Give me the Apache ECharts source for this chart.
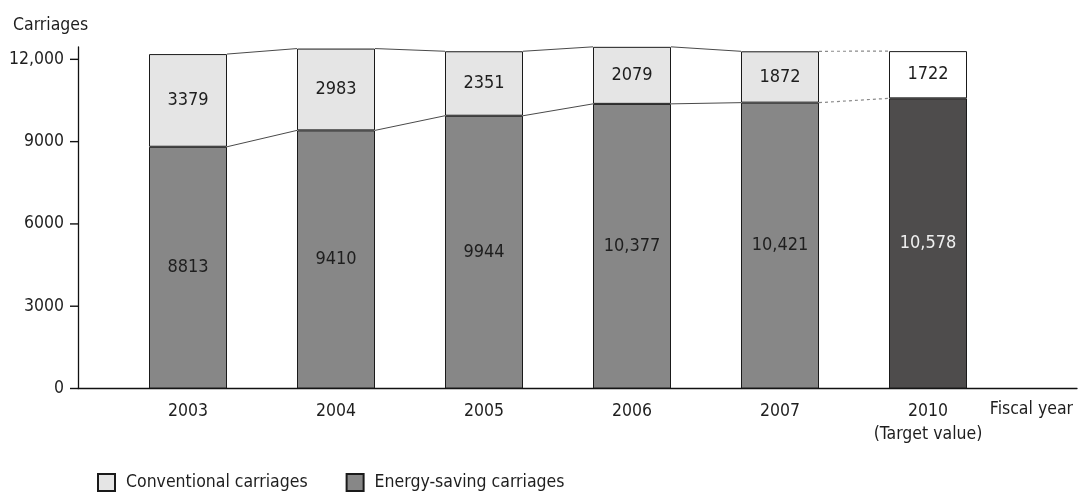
<!DOCTYPE html>
<html>
<head>
<meta charset="utf-8">
<title>Conventional and energy-saving carriages by fiscal year</title>
<script src="https://cdn.jsdelivr.net/npm/echarts@6/dist/echarts.min.js"></script>
<style>
  html, body { margin: 0; padding: 0; background: #fff; }
  #chart { width: 1080px; height: 495px; }
</style>
</head>
<body>
<div id="chart"></div>
<script>
// Fiscal years shown on the horizontal axis
const years = ['2003', '2004', '2005', '2006', '2007', '2010\n(Target value)'];
// Number of energy-saving carriages (lower segment)
const energySaving = [8813, 9410, 9944, 10377, 10421, 10578];
// Number of conventional carriages (upper segment)
const conventional = [3379, 2983, 2351, 2079, 1872, 1722];
// Vertical axis tick values
const yTicks = [0, 3000, 6000, 9000, 12000];
// Index of the target-value column (drawn in different shades)
const targetIndex = 5;

const FONT = '"Liberation Sans Narrow", "DejaVu Sans Condensed", sans-serif';
const INK = '#1e1e1e';
const BAR_WIDTH = 78;
const TICK_LEN = 8;
const FS = 17.5;

function fmt(v) {
  return v >= 10000 ? v.toLocaleString('en-US') : String(v);
}

const totals = energySaving.map((v, i) => v + conventional[i]);

// Connector segments between neighbouring columns: [from, to, lowFrom, lowTo, topFrom, topTo, dashed]
const connectors = [];
for (let i = 0; i < years.length - 1; i++) {
  connectors.push([i, i + 1, energySaving[i], energySaving[i + 1], totals[i], totals[i + 1], i + 1 === targetIndex ? 1 : 0]);
}

const chart = echarts.init(document.getElementById('chart'), null, { renderer: 'canvas' });

// The value axis line runs a little above the last tick; the labelled scale uses
// a grid whose top sits exactly at the last tick on the same pixel scale.
const yAxisMax = 12450;
const yLastTick = yTicks[yTicks.length - 1];
const yStep = yTicks[1] - yTicks[0];
const plotTop = 47;
const plotBottom = 106.5;
const plotHeight = 495 - plotTop - plotBottom;
const tickGridTop = plotTop + plotHeight * (1 - yLastTick / yAxisMax);

const axisColor = '#111';

chart.setOption({
  animation: false,
  backgroundColor: '#ffffff',
  textStyle: { fontFamily: FONT },
  title: {
    text: 'Carriages',
    left: 8,
    top: 11,
    textStyle: { fontFamily: FONT, fontSize: FS, fontWeight: 'normal', color: INK }
  },
  grid: [
    // plotting area for the columns
    { left: 114, right: 78, top: plotTop, bottom: plotBottom, containLabel: false },
    // frame carrying the full-length axis lines, tick marks and the horizontal axis name
    { left: 78, right: 3, top: plotTop, bottom: plotBottom, containLabel: false },
    // frame for the tick labels of the value axis
    { left: 78, right: 3, top: tickGridTop, bottom: plotBottom, containLabel: false }
  ],
  legend: {
    data: ['Conventional carriages', 'Energy-saving carriages'],
    left: 92,
    top: 468,
    icon: 'rect',
    itemWidth: 17,
    itemHeight: 17,
    itemGap: 38,
    selectedMode: false,
    textStyle: { fontFamily: FONT, fontSize: FS, color: INK, padding: [0, 0, 0, 6] }
  },
  xAxis: [
    {
      type: 'category',
      gridIndex: 0,
      data: years,
      boundaryGap: true,
      axisLine: { show: false },
      axisTick: { show: false },
      axisLabel: {
        interval: 0,
        fontFamily: FONT,
        fontSize: FS,
        lineHeight: 23,
        color: INK,
        margin: 11
      }
    },
    {
      type: 'value',
      gridIndex: 1,
      min: 0,
      max: 1,
      splitLine: { show: false },
      axisLine: { show: true, onZero: false, lineStyle: { color: axisColor, width: 1.3 } },
      axisTick: { show: false },
      axisLabel: { show: false },
      name: 'Fiscal year',
      nameLocation: 'end',
      nameGap: -4,
      nameTextStyle: {
        fontFamily: FONT,
        fontSize: FS,
        color: INK,
        align: 'right',
        verticalAlign: 'top',
        padding: [12, 0, 0, 0]
      }
    },
    {
      type: 'value',
      gridIndex: 2,
      min: 0,
      max: 1,
      show: false
    }
  ],
  yAxis: [
    {
      // scale of the columns
      type: 'value',
      gridIndex: 0,
      min: 0,
      max: yAxisMax,
      show: false
    },
    {
      // vertical axis line on the same scale
      type: 'value',
      gridIndex: 1,
      min: 0,
      max: yAxisMax,
      splitLine: { show: false },
      axisLine: { show: true, onZero: false, lineStyle: { color: axisColor, width: 1.3 } },
      axisTick: { show: false },
      axisLabel: { show: false }
    },
    {
      // tick labels, 0 to 12,000 every 3000
      type: 'value',
      gridIndex: 2,
      min: 0,
      max: yLastTick,
      interval: yStep,
      splitLine: { show: false },
      axisLine: { show: false },
      axisTick: { show: false },
      axisLabel: {
        formatter: v => fmt(v),
        fontFamily: FONT,
        fontSize: FS,
        color: INK,
        margin: 14
      }
    }
  ],
  series: [
    {
      // outward tick marks on the vertical axis
      type: 'custom',
      name: 'ticks',
      xAxisIndex: 1,
      yAxisIndex: 1,
      silent: true,
      clip: false,
      z: 3,
      encode: { x: 0, y: 1 },
      data: yTicks.map(v => [0, v]),
      renderItem: function (params, api) {
        const p = api.coord([api.value(0), api.value(1)]);
        return {
          type: 'line',
          shape: { x1: p[0] - TICK_LEN, y1: p[1], x2: p[0], y2: p[1] },
          style: { stroke: axisColor, lineWidth: 1.4 }
        };
      }
    },
    {
      // thin connector lines joining segment boundaries of adjacent columns
      type: 'custom',
      name: 'connectors',
      xAxisIndex: 0,
      yAxisIndex: 0,
      silent: true,
      z: 1,
      encode: { x: [0, 1], y: [2, 3, 4, 5] },
      data: connectors,
      renderItem: function (params, api) {
        const half = BAR_WIDTH / 2;
        const dashed = api.value(6) === 1;
        const style = dashed
          ? { stroke: '#8a8a8a', lineWidth: 1.2, lineDash: [3, 3] }
          : { stroke: '#4a4a4a', lineWidth: 1 };
        const lowA = api.coord([api.value(0), api.value(2)]);
        const lowB = api.coord([api.value(1), api.value(3)]);
        const topA = api.coord([api.value(0), api.value(4)]);
        const topB = api.coord([api.value(1), api.value(5)]);
        return {
          type: 'group',
          children: [
            { type: 'line', shape: { x1: lowA[0] + half, y1: lowA[1], x2: lowB[0] - half, y2: lowB[1] }, style: style },
            { type: 'line', shape: { x1: topA[0] + half, y1: topA[1], x2: topB[0] - half, y2: topB[1] }, style: style }
          ]
        };
      }
    },
    {
      type: 'bar',
      name: 'Energy-saving carriages',
      xAxisIndex: 0,
      yAxisIndex: 0,
      stack: 'carriages',
      barWidth: BAR_WIDTH,
      z: 2,
      itemStyle: { color: '#878787', borderColor: '#1a1a1a', borderWidth: 1 },
      label: {
        show: true,
        position: 'inside',
        fontFamily: FONT,
        fontSize: 18,
        color: INK,
        formatter: p => fmt(p.value)
      },
      data: energySaving.map((v, i) => i === targetIndex
        ? { value: v, itemStyle: { color: '#4e4c4c' }, label: { color: '#f0f0f0' } }
        : v)
    },
    {
      type: 'bar',
      name: 'Conventional carriages',
      xAxisIndex: 0,
      yAxisIndex: 0,
      stack: 'carriages',
      barWidth: BAR_WIDTH,
      z: 2,
      itemStyle: { color: '#e5e5e5', borderColor: '#1a1a1a', borderWidth: 1 },
      label: {
        show: true,
        position: 'inside',
        fontFamily: FONT,
        fontSize: 18,
        color: INK,
        formatter: p => fmt(p.value)
      },
      data: conventional.map((v, i) => i === targetIndex
        ? { value: v, itemStyle: { color: '#ffffff' } }
        : v)
    }
  ]
});
</script>
</body>
</html>
